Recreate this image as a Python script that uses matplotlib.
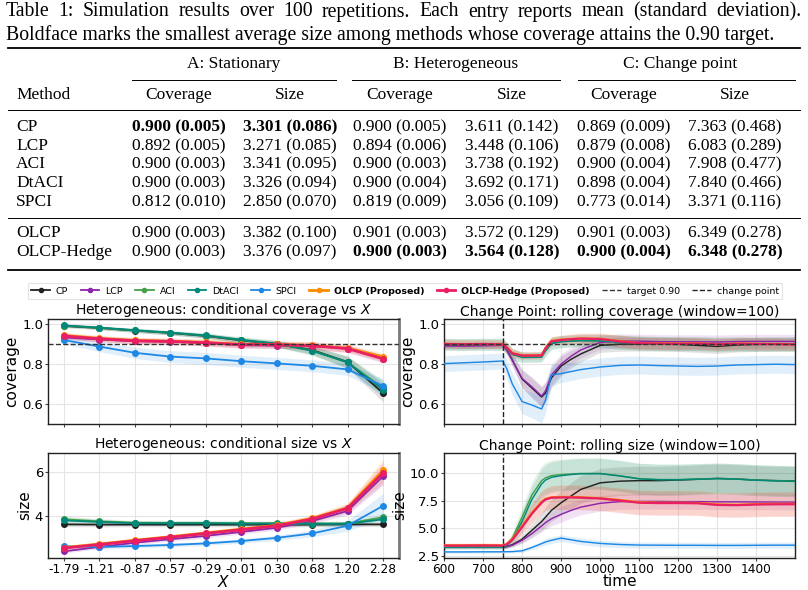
import matplotlib
matplotlib.use('Agg')
import matplotlib.pyplot as plt
from matplotlib.lines import Line2D
import numpy as np

W, H = 808, 590
fig = plt.figure(figsize=(W / 100, H / 100), dpi=100)
def fx(x): return x / W
def fy(y): return 1 - y / H

# ---------------- table data ----------------
methods = ["CP", "LCP", "ACI", "DtACI", "SPCI", "OLCP", "OLCP-Hedge"]
covA_mean = [0.900, 0.892, 0.900, 0.900, 0.812, 0.900, 0.900]
covA_sd = [0.005, 0.005, 0.003, 0.003, 0.010, 0.003, 0.003]
sizeA_mean = [3.301, 3.271, 3.341, 3.326, 2.850, 3.382, 3.376]
sizeA_sd = [0.086, 0.085, 0.095, 0.094, 0.070, 0.100, 0.097]
covB_mean = [0.900, 0.894, 0.900, 0.900, 0.819, 0.901, 0.900]
covB_sd = [0.005, 0.006, 0.003, 0.004, 0.009, 0.003, 0.003]
sizeB_mean = [3.611, 3.448, 3.738, 3.692, 3.056, 3.572, 3.564]
sizeB_sd = [0.142, 0.106, 0.192, 0.171, 0.109, 0.129, 0.128]
covC_mean = [0.869, 0.879, 0.900, 0.898, 0.773, 0.901, 0.900]
covC_sd = [0.009, 0.008, 0.004, 0.004, 0.014, 0.003, 0.004]
sizeC_mean = [7.363, 6.083, 7.908, 7.840, 3.371, 6.349, 6.348]
sizeC_sd = [0.468, 0.289, 0.477, 0.466, 0.116, 0.278, 0.278]
bold_cells = [(0, 0), (0, 1), (6, 2), (6, 3), (6, 4), (6, 5)]
group_titles = ["A: Stationary", "B: Heterogeneous", "C: Change point"]
col_titles = ["Coverage", "Size", "Coverage", "Size", "Coverage", "Size"]
caption1 = "Table 1:  Simulation results over 100 repetitions.  Each entry reports mean (standard deviation)."
caption2 = "Boldface marks the smallest average size among methods whose coverage attains the 0.90 target."

# ---------------- heterogeneous (conditional) data ----------------
x_labels = ["-1.79", "-1.21", "-0.87", "-0.57", "-0.29", "-0.01", "0.30", "0.68", "1.20", "2.28"]
cc_CP = [0.990, 0.980, 0.967, 0.955, 0.940, 0.918, 0.900, 0.870, 0.810, 0.655]
cc_LCP = [0.933, 0.922, 0.914, 0.911, 0.906, 0.893, 0.892, 0.890, 0.877, 0.827]
cc_ACI = [0.992, 0.981, 0.968, 0.956, 0.942, 0.920, 0.901, 0.867, 0.808, 0.680]
cc_DtACI = [0.993, 0.982, 0.969, 0.957, 0.943, 0.921, 0.902, 0.866, 0.808, 0.672]
cc_SPCI = [0.920, 0.887, 0.856, 0.837, 0.828, 0.814, 0.803, 0.791, 0.773, 0.690]
cc_OLCP = [0.943, 0.928, 0.918, 0.914, 0.908, 0.898, 0.898, 0.893, 0.879, 0.836]
cc_Hedge = [0.940, 0.926, 0.916, 0.913, 0.906, 0.897, 0.897, 0.891, 0.877, 0.826]
cc_hw_CP = [0.008, 0.008, 0.010, 0.010, 0.012, 0.013, 0.015, 0.020, 0.030, 0.045]
cc_hw_LCP = [0.012, 0.012, 0.012, 0.012, 0.013, 0.013, 0.014, 0.015, 0.016, 0.018]
cc_hw_ACI = [0.008, 0.009, 0.010, 0.011, 0.012, 0.014, 0.017, 0.022, 0.030, 0.040]
cc_hw_SPCI = [0.020, 0.025, 0.028, 0.030, 0.030, 0.030, 0.030, 0.030, 0.030, 0.035]
cc_hw_OLCP = [0.015, 0.015, 0.016, 0.016, 0.017, 0.018, 0.018, 0.020, 0.020, 0.020]

cs_CP = [3.62, 3.61, 3.61, 3.61, 3.61, 3.61, 3.61, 3.61, 3.62, 3.62]
cs_LCP = [2.40, 2.60, 2.79, 2.95, 3.10, 3.28, 3.47, 3.77, 4.23, 5.80]
cs_ACI = [3.85, 3.76, 3.70, 3.69, 3.69, 3.67, 3.67, 3.66, 3.66, 3.94]
cs_DtACI = [3.80, 3.73, 3.67, 3.67, 3.67, 3.66, 3.66, 3.65, 3.65, 3.85]
cs_SPCI = [2.63, 2.60, 2.64, 2.69, 2.76, 2.87, 3.01, 3.21, 3.56, 4.46]
cs_OLCP = [2.57, 2.73, 2.90, 3.06, 3.23, 3.40, 3.58, 3.89, 4.38, 6.07]
cs_Hedge = [2.55, 2.71, 2.88, 3.04, 3.21, 3.38, 3.56, 3.86, 4.35, 5.95]
cs_hw_CP = [0.10, 0.10, 0.10, 0.10, 0.10, 0.10, 0.10, 0.10, 0.10, 0.10]
cs_hw_LCP = [0.08, 0.08, 0.09, 0.09, 0.10, 0.10, 0.11, 0.13, 0.18, 0.40]
cs_hw_ACI = [0.15, 0.12, 0.10, 0.10, 0.10, 0.10, 0.10, 0.10, 0.10, 0.15]
cs_hw_SPCI = [0.08, 0.08, 0.08, 0.09, 0.09, 0.10, 0.12, 0.15, 0.25, 0.55]
cs_hw_OLCP = [0.10, 0.10, 0.10, 0.10, 0.11, 0.12, 0.13, 0.15, 0.20, 0.50]

# ---------------- change point (rolling) data ----------------
t = [600, 650, 700, 750, 760, 775, 800, 825, 850, 860, 875, 900, 925, 950, 1000,
     1050, 1100, 1150, 1200, 1250, 1300, 1350, 1400, 1450, 1499]
rc_CP = [0.895, 0.893, 0.895, 0.897, 0.875, 0.820, 0.725, 0.680, 0.635, 0.655, 0.730, 0.790, 0.823,
         0.850, 0.893, 0.899, 0.900, 0.899, 0.898, 0.893, 0.888, 0.895, 0.898, 0.899, 0.900]
rc_LCP = [0.890, 0.889, 0.891, 0.893, 0.872, 0.818, 0.728, 0.686, 0.640, 0.665, 0.745, 0.800, 0.838,
          0.870, 0.908, 0.915, 0.914, 0.912, 0.911, 0.911, 0.910, 0.912, 0.913, 0.913, 0.913]
rc_ACI = [0.899, 0.898, 0.899, 0.899, 0.882, 0.850, 0.836, 0.836, 0.837, 0.868, 0.905, 0.913, 0.916,
          0.918, 0.917, 0.910, 0.905, 0.903, 0.902, 0.902, 0.899, 0.901, 0.900, 0.900, 0.900]
rc_DtACI = [0.898, 0.897, 0.898, 0.898, 0.880, 0.848, 0.833, 0.833, 0.834, 0.865, 0.902, 0.911, 0.914,
            0.916, 0.915, 0.908, 0.904, 0.902, 0.901, 0.901, 0.898, 0.900, 0.899, 0.899, 0.899]
rc_SPCI = [0.802, 0.806, 0.810, 0.815, 0.780, 0.700, 0.612, 0.595, 0.575, 0.620, 0.745, 0.752, 0.762,
           0.772, 0.785, 0.793, 0.795, 0.792, 0.790, 0.788, 0.790, 0.795, 0.797, 0.799, 0.797]
rc_OLCP = [0.901, 0.900, 0.900, 0.899, 0.885, 0.855, 0.843, 0.843, 0.844, 0.880, 0.915, 0.922, 0.925,
           0.928, 0.926, 0.915, 0.905, 0.903, 0.902, 0.903, 0.899, 0.902, 0.901, 0.900, 0.899]
rc_Hedge = [0.900, 0.899, 0.900, 0.898, 0.884, 0.853, 0.842, 0.842, 0.843, 0.878, 0.913, 0.920, 0.924,
            0.927, 0.925, 0.913, 0.904, 0.902, 0.901, 0.902, 0.898, 0.901, 0.900, 0.899, 0.898]
rc_hw_CP = [0.015, 0.015, 0.015, 0.015, 0.020, 0.030, 0.045, 0.050, 0.050, 0.050, 0.050, 0.050, 0.045,
            0.040, 0.035, 0.035, 0.035, 0.035, 0.035, 0.035, 0.035, 0.035, 0.035, 0.035, 0.035]
rc_hw_ACI = [0.030, 0.030, 0.030, 0.030, 0.030, 0.030, 0.025, 0.025, 0.025, 0.028, 0.030, 0.030, 0.030,
             0.030, 0.032, 0.035, 0.035, 0.035, 0.035, 0.035, 0.035, 0.035, 0.035, 0.035, 0.035]
rc_hw_SPCI = [0.040, 0.040, 0.040, 0.040, 0.045, 0.055, 0.060, 0.065, 0.070, 0.065, 0.055, 0.045, 0.045,
              0.045, 0.045, 0.045, 0.045, 0.045, 0.045, 0.045, 0.045, 0.045, 0.045, 0.045, 0.045]
rc_hw_OLCP = [0.022, 0.022, 0.022, 0.022, 0.022, 0.020, 0.018, 0.018, 0.018, 0.020, 0.022, 0.022, 0.024,
              0.026, 0.028, 0.030, 0.030, 0.030, 0.030, 0.030, 0.030, 0.030, 0.030, 0.030, 0.030]

rs_CP = [3.30, 3.30, 3.30, 3.30, 3.33, 3.50, 4.00, 4.80, 5.60, 6.00, 6.60, 7.30, 7.90, 8.50, 9.10,
         9.25, 9.30, 9.30, 9.35, 9.42, 9.50, 9.45, 9.35, 9.30, 9.28]
rs_LCP = [3.30, 3.30, 3.30, 3.30, 3.32, 3.45, 3.90, 4.50, 5.20, 5.50, 5.85, 6.25, 6.60, 6.90, 7.25,
          7.40, 7.42, 7.42, 7.40, 7.40, 7.38, 7.38, 7.37, 7.36, 7.35]
rs_ACI = [3.30, 3.30, 3.30, 3.30, 3.45, 4.10, 6.00, 8.00, 9.30, 9.55, 9.75, 9.85, 9.90, 9.95, 9.95,
          9.75, 9.48, 9.40, 9.40, 9.45, 9.50, 9.45, 9.35, 9.30, 9.25]
rs_DtACI = [3.28, 3.28, 3.28, 3.28, 3.40, 3.90, 5.60, 7.60, 9.00, 9.35, 9.60, 9.75, 9.85, 9.92, 9.93,
            9.72, 9.46, 9.38, 9.38, 9.43, 9.48, 9.43, 9.33, 9.28, 9.23]
rs_SPCI = [2.85, 2.85, 2.86, 2.86, 2.87, 2.88, 2.95, 3.25, 3.60, 3.75, 3.90, 4.10, 3.95, 3.80, 3.62,
           3.52, 3.47, 3.46, 3.45, 3.45, 3.44, 3.44, 3.45, 3.46, 3.46]
rs_OLCP = [3.45, 3.45, 3.46, 3.45, 3.55, 4.00, 5.20, 6.40, 7.40, 7.65, 7.80, 7.82, 7.82, 7.80, 7.72,
           7.55, 7.35, 7.30, 7.30, 7.28, 7.15, 7.12, 7.18, 7.20, 7.20]
rs_Hedge = [3.42, 3.42, 3.43, 3.42, 3.52, 3.95, 5.10, 6.30, 7.30, 7.60, 7.75, 7.78, 7.78, 7.76, 7.68,
            7.50, 7.30, 7.27, 7.27, 7.25, 7.10, 7.08, 7.14, 7.16, 7.16]
rs_hw_CP = [0.15, 0.15, 0.15, 0.15, 0.15, 0.20, 0.35, 0.55, 0.80, 0.90, 1.00, 1.10, 1.20, 1.25, 1.30,
            1.30, 1.30, 1.30, 1.30, 1.30, 1.30, 1.30, 1.30, 1.30, 1.30]
rs_hw_LCP = [0.12, 0.12, 0.12, 0.12, 0.12, 0.15, 0.25, 0.40, 0.55, 0.60, 0.65, 0.70, 0.70, 0.70, 0.70,
             0.70, 0.70, 0.70, 0.70, 0.70, 0.70, 0.70, 0.70, 0.70, 0.70]
rs_hw_ACI = [0.18, 0.18, 0.18, 0.18, 0.25, 0.50, 0.90, 1.20, 1.35, 1.40, 1.40, 1.40, 1.40, 1.40, 1.40,
             1.40, 1.40, 1.40, 1.40, 1.40, 1.40, 1.40, 1.40, 1.40, 1.40]
rs_hw_SPCI = [0.12, 0.12, 0.12, 0.12, 0.12, 0.12, 0.15, 0.20, 0.25, 0.28, 0.30, 0.30, 0.30, 0.30, 0.30,
              0.28, 0.28, 0.28, 0.28, 0.28, 0.28, 0.28, 0.28, 0.28, 0.28]
rs_hw_OLCP = [0.20, 0.20, 0.20, 0.20, 0.25, 0.40, 0.70, 0.90, 1.00, 1.00, 1.05, 1.10, 1.10, 1.10, 1.10,
              1.10, 1.10, 1.10, 1.10, 1.10, 1.10, 1.10, 1.10, 1.10, 1.10]

change_time = 750
target = 0.90

colors = {"CP": "#212121", "LCP": "#8e24aa", "ACI": "#43a047", "DtACI": "#00897b",
          "SPCI": "#1e88e5", "OLCP": "#fb8c00", "OLCP-Hedge": "#e91e63"}

# ---------------- draw table ----------------
SERIF = ['Liberation Serif', 'DejaVu Serif']
TFS = 12.5
CFS = 14.2
renderer = fig.canvas.get_renderer()

def justified(text, x0, x1, y, fs):
    words = text.split()
    arts = [fig.text(0, fy(y), w, family=SERIF, fontsize=fs, ha='left', va='center') for w in words]
    widths = [a.get_window_extent(renderer).width for a in arts]
    gap = (x1 - x0 - sum(widths)) / (len(words) - 1)
    x = x0
    for a, w in zip(arts, widths):
        a.set_x(fx(x))
        x += w + gap

justified(caption1, 6, 801, 12, CFS)
fig.text(fx(6), fy(35), caption2, family=SERIF, fontsize=CFS, ha='left', va='center')

def hrule(y, x0, x1, lw):
    fig.add_artist(Line2D([fx(x0), fx(x1)], [fy(y), fy(y)], transform=fig.transFigure,
                          color='black', lw=lw))

hrule(48, 8, 800, 1.3)
hrule(110, 8, 800, 0.7)
hrule(218, 8, 800, 0.7)
hrule(270, 8, 800, 1.3)

col_x = [179, 290, 400, 512, 624, 735]
group_x = [234, 456, 680]
cmid = [(132, 336), (352, 560), (578, 795)]
for g, gx, (a, b) in zip(group_titles, group_x, cmid):
    fig.text(fx(gx), fy(64), g, family=SERIF, fontsize=TFS, ha='center', va='center')
    hrule(80, a, b, 0.7)
fig.text(fx(16), fy(95), "Method", family=SERIF, fontsize=TFS, ha='left', va='center')
for c, cx in zip(col_titles, col_x):
    fig.text(fx(cx), fy(95), c, family=SERIF, fontsize=TFS, ha='center', va='center')

row_y = [127, 146, 164, 183, 202, 233, 252]
cols = [(covA_mean, covA_sd), (sizeA_mean, sizeA_sd), (covB_mean, covB_sd),
        (sizeB_mean, sizeB_sd), (covC_mean, covC_sd), (sizeC_mean, sizeC_sd)]
for i, m in enumerate(methods):
    fig.text(fx(16), fy(row_y[i]), m, family=SERIF, fontsize=TFS, ha='left', va='center')
    for j, (mu, sd) in enumerate(cols):
        s = f"{mu[i]:.3f} ({sd[i]:.3f})"
        w = 'bold' if (i, j) in bold_cells else 'normal'
        fig.text(fx(col_x[j]), fy(row_y[i]), s, family=SERIF, fontsize=TFS,
                 ha='center', va='center', weight=w)

# ---------------- axes ----------------
def make_ax(l, t_, r, b):
    return fig.add_axes([fx(l), fy(b), (r - l) / W, (b - t_) / H])

ax_tl = make_ax(48, 319, 399, 424)
ax_tr = make_ax(444, 319, 795, 424)
ax_bl = make_ax(48, 453, 399, 558)
ax_br = make_ax(444, 453, 795, 558)

for ax in [ax_tl, ax_tr, ax_bl, ax_br]:
    ax.set_facecolor('white')
    ax.grid(True, color='#e5e5e5', lw=0.8)
    ax.set_axisbelow(True)
    for s in ax.spines.values():
        s.set_color('#222222')
        s.set_linewidth(1.0)
    ax.tick_params(labelsize=9.5, length=2, width=0.8, color='#444444', pad=1.5)
    ax.tick_params(axis='x', labelsize=8.7)
for ax in [ax_tl, ax_bl]:
    ax.spines['right'].set_color('#7a7a7a')
    ax.spines['right'].set_linewidth(2.0)

order = ["CP", "LCP", "ACI", "DtACI", "SPCI", "OLCP", "OLCP-Hedge"]
xi = np.arange(len(x_labels))

cc = {"CP": (cc_CP, cc_hw_CP), "LCP": (cc_LCP, cc_hw_LCP), "ACI": (cc_ACI, cc_hw_ACI),
      "DtACI": (cc_DtACI, cc_hw_ACI), "SPCI": (cc_SPCI, cc_hw_SPCI),
      "OLCP": (cc_OLCP, cc_hw_OLCP), "OLCP-Hedge": (cc_Hedge, cc_hw_OLCP)}
cs = {"CP": (cs_CP, cs_hw_CP), "LCP": (cs_LCP, cs_hw_LCP), "ACI": (cs_ACI, cs_hw_ACI),
      "DtACI": (cs_DtACI, cs_hw_ACI), "SPCI": (cs_SPCI, cs_hw_SPCI),
      "OLCP": (cs_OLCP, cs_hw_OLCP), "OLCP-Hedge": (cs_Hedge, cs_hw_OLCP)}
rc = {"CP": (rc_CP, rc_hw_CP), "LCP": (rc_LCP, rc_hw_CP), "ACI": (rc_ACI, rc_hw_ACI),
      "DtACI": (rc_DtACI, rc_hw_ACI), "SPCI": (rc_SPCI, rc_hw_SPCI),
      "OLCP": (rc_OLCP, rc_hw_OLCP), "OLCP-Hedge": (rc_Hedge, rc_hw_OLCP)}
rs = {"CP": (rs_CP, rs_hw_CP), "LCP": (rs_LCP, rs_hw_LCP), "ACI": (rs_ACI, rs_hw_ACI),
      "DtACI": (rs_DtACI, rs_hw_ACI), "SPCI": (rs_SPCI, rs_hw_SPCI),
      "OLCP": (rs_OLCP, rs_hw_OLCP), "OLCP-Hedge": (rs_Hedge, rs_hw_OLCP)}

def lw_of(m):
    return 2.0 if m in ("OLCP", "OLCP-Hedge") else 1.3

handles = []
for k, m in enumerate(order):
    z = 3 + k
    for ax, d in [(ax_tl, cc), (ax_bl, cs)]:
        y, hw = np.array(d[m][0]), np.array(d[m][1])
        ax.fill_between(xi, y - hw, y + hw, color=colors[m], alpha=0.13, lw=0, zorder=2)
        ax.plot(xi, y, color=colors[m], lw=lw_of(m), marker='o', ms=4, zorder=z)
    for ax, d in [(ax_tr, rc), (ax_br, rs)]:
        y, hw = np.array(d[m][0]), np.array(d[m][1])
        ax.fill_between(t, y - hw, y + hw, color=colors[m], alpha=0.13, lw=0, zorder=2)
        ax.plot(t, y, color=colors[m], lw=lw_of(m) * 0.8, zorder=z)
    handles.append(Line2D([], [], color=colors[m], lw=lw_of(m), marker='o', ms=3,
                          label=m + (" (Proposed)" if m in ("OLCP", "OLCP-Hedge") else "")))

for ax in [ax_tl, ax_tr]:
    ax.axhline(target, color='#333333', ls='--', lw=1.0, zorder=20)
for ax in [ax_tr, ax_br]:
    ax.axvline(change_time, color='#222222', ls='--', lw=1.0, zorder=20)

handles.append(Line2D([], [], color='#333333', ls='--', lw=1.0, label='target 0.90'))
handles.append(Line2D([], [], color='#222222', ls='--', lw=1.0, label='change point'))

for ax in [ax_tl, ax_bl]:
    ax.set_xlim(-0.45, 9.45)
    ax.set_xticks(xi)
ax_tl.set_xticklabels([])
ax_bl.set_xticklabels(x_labels)
ax_tl.set_ylim(0.5, 1.025)
ax_tl.set_yticks([0.6, 0.8, 1.0])
ax_tr.set_ylim(0.5, 1.025)
ax_tr.set_yticks([0.6, 0.8, 1.0])
ax_bl.set_ylim(2.1, 6.85)
ax_bl.set_yticks([4, 6])
ax_br.set_ylim(2.3, 11.8)
ax_br.set_yticks([2.5, 5.0, 7.5, 10.0])
for ax in [ax_tr, ax_br]:
    ax.set_xlim(600, 1499)
    ax.set_xticks(np.arange(600, 1500, 100))
ax_tr.set_xticklabels([])

TT = 10
ax_tl.set_title("Heterogeneous: conditional coverage vs $X$", fontsize=TT, pad=2)
ax_tr.set_title("Change Point: rolling coverage (window=100)", fontsize=TT, pad=2)
ax_bl.set_title("Heterogeneous: conditional size vs $X$", fontsize=TT, pad=2)
ax_br.set_title("Change Point: rolling size (window=100)", fontsize=TT, pad=2)
ax_tl.set_ylabel("coverage", fontsize=11, labelpad=2)
ax_tr.set_ylabel("coverage", fontsize=11, labelpad=2)
ax_bl.set_ylabel("size", fontsize=11, labelpad=2)
ax_br.set_ylabel("size", fontsize=11, labelpad=2)
ax_bl.set_xlabel("$X$", fontsize=11, labelpad=-1.5)
ax_br.set_xlabel("time", fontsize=11, labelpad=-1.5)

leg = fig.legend(handles=handles, loc='center', bbox_to_anchor=(fx(405), fy(291)), ncol=9,
                 fontsize=6.8, frameon=True, handlelength=2.0, columnspacing=1.3,
                 handletextpad=0.6, borderpad=0.4, fancybox=True)
leg.get_frame().set_edgecolor('#dddddd')
leg.get_frame().set_linewidth(0.8)
for txt in leg.get_texts():
    if "Proposed" in txt.get_text():
        txt.set_fontweight('bold')

fig.savefig('out.png', dpi=100)
